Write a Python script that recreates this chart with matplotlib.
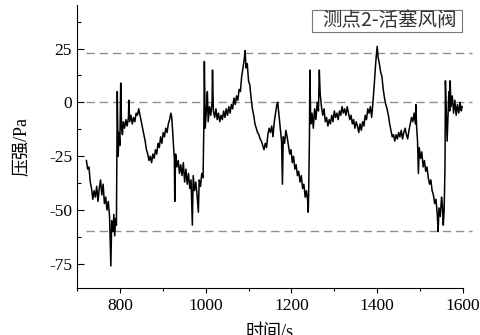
import matplotlib
matplotlib.use('Agg')
import matplotlib.pyplot as plt
from matplotlib.ticker import MultipleLocator
from matplotlib.patches import Rectangle

plt.rcParams['font.family'] = ['Liberation Serif', 'Noto Sans CJK SC']
plt.rcParams['axes.unicode_minus'] = False

# 时间 (s) 和 压强 (Pa)
t = [722, 725, 728, 731, 734, 737, 740, 743, 746, 749, 752, 755, 758, 761, 764, 767, 770, 773, 776, 779,
     781, 784, 786, 788, 790, 792,
     794, 796, 798, 800, 802, 804, 806, 808, 811, 814, 817, 820, 821, 823, 826, 829, 832, 835, 838, 841,
     844, 847, 850, 853, 856, 859, 862, 865, 868, 871, 874, 877, 880, 883, 886, 889, 892, 895, 898, 901,
     904, 907, 910, 913, 916, 919, 921, 923, 925, 927, 928, 930, 933, 936, 939, 942, 945, 948, 951, 954,
     957, 960, 963, 966, 969, 971, 974, 977, 980, 983, 985, 988, 991, 994,
     996, 997, 999, 1002, 1004, 1006, 1009, 1012, 1015, 1016, 1018, 1021, 1024, 1027, 1030, 1033, 1036,
     1039, 1042, 1045, 1048, 1051, 1054, 1057, 1060, 1063, 1066, 1069, 1072, 1075, 1078, 1081, 1084, 1087,
     1090, 1092, 1094, 1097, 1100, 1103, 1106, 1109, 1112, 1115, 1118, 1121, 1124, 1127, 1130, 1133, 1136,
     1139, 1142, 1145, 1148, 1151, 1154, 1157, 1160, 1163, 1166, 1168, 1171, 1174, 1177, 1179, 1181, 1184,
     1187, 1190, 1193, 1196, 1199, 1202, 1205, 1208, 1211, 1214, 1217, 1220, 1223, 1226, 1229, 1232, 1235,
     1238, 1239, 1240,
     1242, 1243, 1245, 1248, 1251, 1254, 1257, 1260, 1263, 1265, 1267, 1270, 1273, 1276, 1279, 1282, 1285,
     1288, 1291, 1294, 1297, 1300, 1303, 1306, 1309, 1312, 1315, 1318, 1321, 1324, 1327, 1330, 1333, 1336,
     1339, 1342, 1345, 1348, 1351, 1354, 1357, 1360, 1363, 1366, 1369, 1372, 1375, 1378, 1381, 1384, 1387,
     1390, 1393, 1396, 1398, 1400, 1402, 1405, 1408, 1411, 1414, 1417, 1420, 1423, 1426, 1429, 1432, 1435,
     1438, 1441, 1444, 1447, 1450, 1453, 1456, 1459, 1462, 1465, 1468, 1471, 1474, 1477, 1480, 1483, 1486,
     1489, 1490, 1492, 1494, 1496, 1498, 1501, 1504, 1507, 1510, 1513, 1516, 1519, 1522, 1525, 1528, 1531,
     1534, 1537, 1540, 1542, 1544, 1547, 1550, 1552, 1554, 1556,
     1558, 1559, 1561, 1563, 1565, 1567, 1569, 1570, 1572, 1575, 1578, 1581, 1584, 1587, 1590, 1593, 1596,
     1598]
p = [-27, -31, -30, -37, -40, -45, -41, -44, -39, -46, -40, -36, -43, -38, -47, -44, -50, -46, -53, -76,
     -55, -60, -52, -62, -54, -57,
     5, -25, -14, -20, 9, -12, -15, -9, -12, -8, -11, -7, 1, -9, -6, -10, -7, -9, -5, -6,
     -3, -6, -9, -12, -15, -18, -22, -24, -27, -25, -28, -24, -26, -22, -24, -19, -21, -16, -19, -14,
     -16, -12, -14, -10, -8, -5, -7, -13, -20, -26, -46, -24, -30, -27, -33, -29, -34, -28, -37, -31,
     -38, -33, -40, -36, -57, -34, -41, -37, -43, -51, -36, -39, -33, -35,
     -8, 19, -12, -3, 5, -9, -2, -6, 0, 15, -4, -7, -3, -8, -5, -9, -6,
     -8, -4, -7, -3, -6, -2, -5, -1, -3, 2, -1, 3, 1, 6, 5, 12, 16,
     20, 24, 16, 18, 10, 8, 2, -3, -6, -10, -12, -14, -15, -17, -18, -20, -22,
     -19, -21, -15, -12, -14, -11, -16, -9, -5, -1, 0, -6, -12, -18, -38, -16, -19,
     -13, -16, -20, -24, -22, -28, -25, -31, -29, -34, -32, -37, -34, -40, -38, -44, -41,
     -46, -51, -44,
     -16, 15, -10, -5, -12, -3, -8, 0, -4, 15, 4, -2, -6, -3, -9, -7, -11,
     -8, -10, -6, -9, -4, -7, -5, -8, -4, -6, -2, -5, -3, -6, -2, -5, -8,
     -6, -10, -8, -12, -9, -11, -14, -10, -13, -9, -11, -6, -8, -3, -5, -2, -7,
     0, 8, 17, 22, 26, 21, 18, 14, 12, 6, 2, -1, -3, -6, -10, -13, -16,
     -15, -18, -15, -17, -14, -16, -13, -17, -14, -12, -15, -17, -13, -10, -7, -9, -5,
     -10, -1, -12, -18, -33, -21, -26, -23, -30, -27, -32, -30, -35, -38, -36, -41, -43,
     -47, -45, -52, -60, -49, -53, -44, -48, -57, -50,
     -30, 10, -5, -18, -6, 5, -4, 10, -2, 3, -5, 1, -6, -1, -5, 0, -4,
     -2]

# 参考线
ref_levels = [23, 0, -59.5]

fig = plt.figure(figsize=(4.81, 3.35), dpi=100)
ax = fig.add_axes([0.160, 0.1403, 0.8026, 0.8447])

for y in ref_levels:
    ax.plot([720, 1620], [y, y], color='#8f8f8f', linewidth=1.0, linestyle=(0, (6, 3.5)),
            clip_on=False, zorder=1)

ax.plot(t, p, color='black', linewidth=1.1, zorder=2)

ax.set_xlim(700, 1600)
ax.set_ylim(-86.2, 45.2)
ax.xaxis.set_major_locator(MultipleLocator(200))
ax.xaxis.set_minor_locator(MultipleLocator(100))
ax.yaxis.set_major_locator(MultipleLocator(25))
ax.yaxis.set_minor_locator(MultipleLocator(12.5))

ax.spines['top'].set_visible(False)
ax.spines['right'].set_visible(False)
for s in ['left', 'bottom']:
    ax.spines[s].set_linewidth(0.8)

ax.tick_params(axis='y', which='major', direction='in', length=5, width=0.8, labelsize=12.5, pad=3.5)
ax.tick_params(axis='y', which='minor', direction='in', length=3, width=0.8)
ax.tick_params(axis='x', which='major', direction='out', length=3.5, width=0.8, labelsize=12.5, pad=4)
ax.tick_params(axis='x', which='minor', direction='out', length=2.5, width=0.8)

ax.set_xlabel('时间/s', fontsize=13, labelpad=7)
ax.set_ylabel('压强/Pa', fontsize=13, labelpad=14)

# 图例框
ax.add_patch(Rectangle((0.609, 0.905), 0.388, 0.077, transform=ax.transAxes,
                       facecolor='white', edgecolor='#777777', linewidth=0.8, clip_on=False, zorder=3))
ax.text(0.985, 0.944, '测点2-活塞风阀', transform=ax.transAxes, ha='right', va='center',
        fontsize=14, color='#333333', family=['Noto Sans CJK SC', 'DejaVu Sans'], zorder=4)

fig.savefig('out.png', dpi=100)
